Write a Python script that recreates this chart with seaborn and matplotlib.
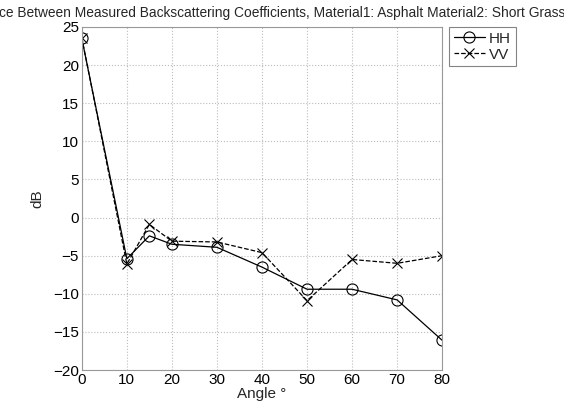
import matplotlib
matplotlib.use("Agg")
import matplotlib.pyplot as plt
import pandas as pd
import seaborn as sns

angles_hh = [0, 10, 15, 20, 30, 40, 50, 60, 70, 80]
db_hh = [23.5, -5.4, -2.4, -3.5, -3.9, -6.5, -9.4, -9.4, -10.8, -16.1]
angles_vv = [0, 10, 15, 20, 30, 40, 50, 60, 70, 80]
db_vv = [23.6, -6.1, -0.9, -3.1, -3.2, -4.6, -10.9, -5.5, -6.0, -5.0]
x_ticks = [0, 10, 20, 30, 40, 50, 60, 70, 80]
y_ticks = [-20, -15, -10, -5, 0, 5, 10, 15, 20, 25]
title = "Difference Between Measured Backscattering Coefficients, Material1: Asphalt Material2: Short Grass"

sns.set_theme(style="white")
plt.rcParams["font.family"] = ["Liberation Sans", "DejaVu Sans"]

fig = plt.figure(figsize=(5.64, 4.08), dpi=100)
ax = fig.add_axes([0.145, 0.093, 0.639, 0.841])

hh = pd.DataFrame({"angle": angles_hh, "dB": db_hh})
vv = pd.DataFrame({"angle": angles_vv, "dB": db_vv})

sns.lineplot(data=hh, x="angle", y="dB", ax=ax, color="black", linewidth=0.9,
             marker="o", markersize=8, markerfacecolor="none", markeredgecolor="black",
             markeredgewidth=0.8, label="HH")
sns.lineplot(data=vv, x="angle", y="dB", ax=ax, color="black", linewidth=0.9,
             linestyle="--", marker="x", markersize=7, markeredgewidth=0.8,
             markeredgecolor="black", label="VV")

ax.set_xlim(0, 80)
ax.set_ylim(-20, 25)
ax.set_xticks(x_ticks)
ax.set_yticks(y_ticks)
ax.grid(True, linestyle=":", color="#bbbbbb", linewidth=0.8)
ax.tick_params(direction="in", length=3, labelsize=11, colors="black", pad=2)
for s in ax.spines.values():
    s.set_color("#999999")
    s.set_linewidth(0.8)

ax.set_xlabel("Angle °", fontsize=11, labelpad=0)
ax.set_ylabel("dB", fontsize=11, labelpad=6)
ax.set_title(title, fontsize=9.9, pad=7, x=0.49)

leg = ax.legend(loc="upper left", bbox_to_anchor=(1.02, 1.0), fontsize=11,
                frameon=True, fancybox=False, handlelength=2.0, handletextpad=0.3,
                borderpad=0.3, labelspacing=0.15, borderaxespad=0)
leg.get_frame().set_edgecolor("#666666")
leg.get_frame().set_linewidth(0.8)

fig.savefig("out.png", dpi=100)
